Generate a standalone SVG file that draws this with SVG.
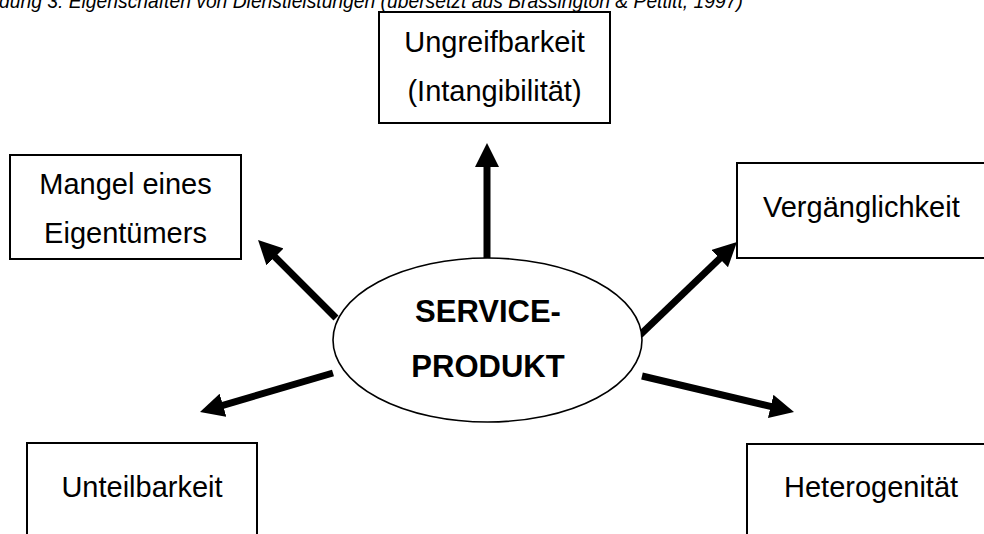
<svg xmlns="http://www.w3.org/2000/svg" width="984" height="534" viewBox="0 0 984 534">
<style>
  .box { fill: #fff; stroke: #000; stroke-width: 2; }
  .lbl { font-family: "Liberation Sans", Arial, sans-serif; font-size: 29px; fill: #000; }
  .bold { font-family: "Liberation Sans", Arial, sans-serif; font-size: 31px; font-weight: bold; fill: #000; text-anchor: middle; }
  .title { font-family: "Liberation Sans", Arial, sans-serif; font-size: 19.3px; font-style: italic; fill: #000; }
  .arrow { stroke: #000; stroke-width: 7; fill: none; marker-end: url(#head); }
</style>
<defs>
  <marker id="head" markerUnits="userSpaceOnUse" viewBox="0 0 24 24" markerWidth="24" markerHeight="24" refX="2" refY="12" orient="auto">
    <path d="M0,0 L24,12 L0,24 z" fill="#000"/>
  </marker>
</defs>
<rect width="984" height="534" fill="#fff"/>
<text class="title" x="-1" y="8">dung 3: Eigenschaften von Dienstleistungen (übersetzt aus Brassington &amp; Pettitt, 1997)</text>

<g id="connectors">
  <line class="arrow" x1="487" y1="258" x2="487" y2="165"/>
  <line class="arrow" x1="336" y1="318" x2="273.6" y2="255.6"/>
  <line class="arrow" x1="640" y1="335" x2="721.1" y2="257.2"/>
  <line class="arrow" x1="333" y1="373" x2="221.1" y2="405.8"/>
  <line class="arrow" x1="642" y1="376" x2="772.6" y2="406.9"/>
</g>

<g id="service-produkt">
  <ellipse cx="487.5" cy="340" rx="154.5" ry="82" fill="#fff" stroke="#000" stroke-width="1.6"/>
  <text class="bold" x="488" y="322">SERVICE-</text>
  <text class="bold" x="488" y="377">PRODUKT</text>
</g>

<g id="ungreifbarkeit">
  <rect class="box" x="379" y="12" width="231" height="111"/>
  <text class="lbl" x="494.5" y="52" text-anchor="middle">Ungreifbarkeit</text>
  <text class="lbl" x="494.5" y="101" text-anchor="middle">(Intangibilität)</text>
</g>

<g id="mangel">
  <rect class="box" x="10" y="155" width="231" height="104"/>
  <text class="lbl" x="125.5" y="194" text-anchor="middle">Mangel eines</text>
  <text class="lbl" x="125.5" y="243" text-anchor="middle">Eigentümers</text>
</g>

<g id="vergaenglichkeit">
  <rect class="box" x="737" y="163" width="260" height="95"/>
  <text class="lbl" x="763" y="217">Vergänglichkeit</text>
</g>

<g id="unteilbarkeit">
  <rect class="box" x="27" y="443" width="230" height="100"/>
  <text class="lbl" x="142" y="497" text-anchor="middle">Unteilbarkeit</text>
</g>

<g id="heterogenitaet">
  <rect class="box" x="747" y="444" width="250" height="100"/>
  <text class="lbl" x="784" y="497">Heterogenität</text>
</g>
</svg>
